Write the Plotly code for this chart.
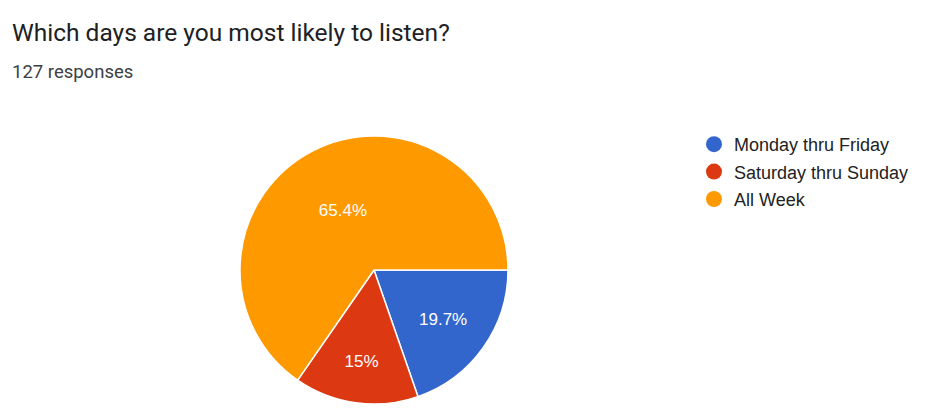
import plotly.graph_objects as go

categories = ["Monday thru Friday", "Saturday thru Sunday", "All Week"]
counts = [25, 19, 83]
pct_labels = ["19.7%", "15%", "65.4%"]
colors = ["#3366CC", "#DC3912", "#FF9900"]
title_text = "Which days are you most likely to listen?"
subtitle_text = "127 responses"

W, H = 935, 410
OFF = 8  # page body margin
def px_x(v): return (v - OFF) / W
def px_y(v): return 1 - (v - OFF) / H

fig = go.Figure()
fig.add_trace(go.Pie(
    labels=categories, values=counts, text=pct_labels,
    textinfo="text", textposition="inside", insidetextorientation="horizontal",
    sort=False, direction="clockwise", rotation=90,
    marker=dict(colors=colors, line=dict(color="white", width=1.5)),
    textfont=dict(family="Arial, Liberation Sans", size=17, color="white"),
    showlegend=False, hoverinfo="label+percent",
    domain=dict(x=[px_x(240), px_x(508)], y=[px_y(404), px_y(136)]),
))
for c, col in zip(categories, colors):
    fig.add_trace(go.Scatter(
        x=[None], y=[None], mode="markers", name=c, legendgroup=c,
        marker=dict(symbol="circle", size=17, color=col),
    ))

fig.update_layout(
    width=W, height=H, margin=dict(l=0, r=0, t=0, b=0),
    paper_bgcolor="white", plot_bgcolor="white",
    xaxis=dict(visible=False), yaxis=dict(visible=False),
    legend=dict(x=px_x(694), y=px_y(126), xanchor="left", yanchor="top",
                font=dict(family="Arial, Liberation Sans", size=18, color="#222222"),
                tracegroupgap=1, itemsizing="trace"),
    annotations=[
        dict(text=title_text, x=px_x(10), y=px_y(32), xref="paper", yref="paper",
             xanchor="left", yanchor="middle", showarrow=False,
             font=dict(family="Roboto, Noto Sans", size=24.5, color="#202124")),
        dict(text=subtitle_text, x=px_x(10), y=px_y(72), xref="paper", yref="paper",
             xanchor="left", yanchor="middle", showarrow=False,
             font=dict(family="Roboto, Noto Sans", size=18.5, color="#3c4043")),
    ],
)
fig.write_html("out.html")
